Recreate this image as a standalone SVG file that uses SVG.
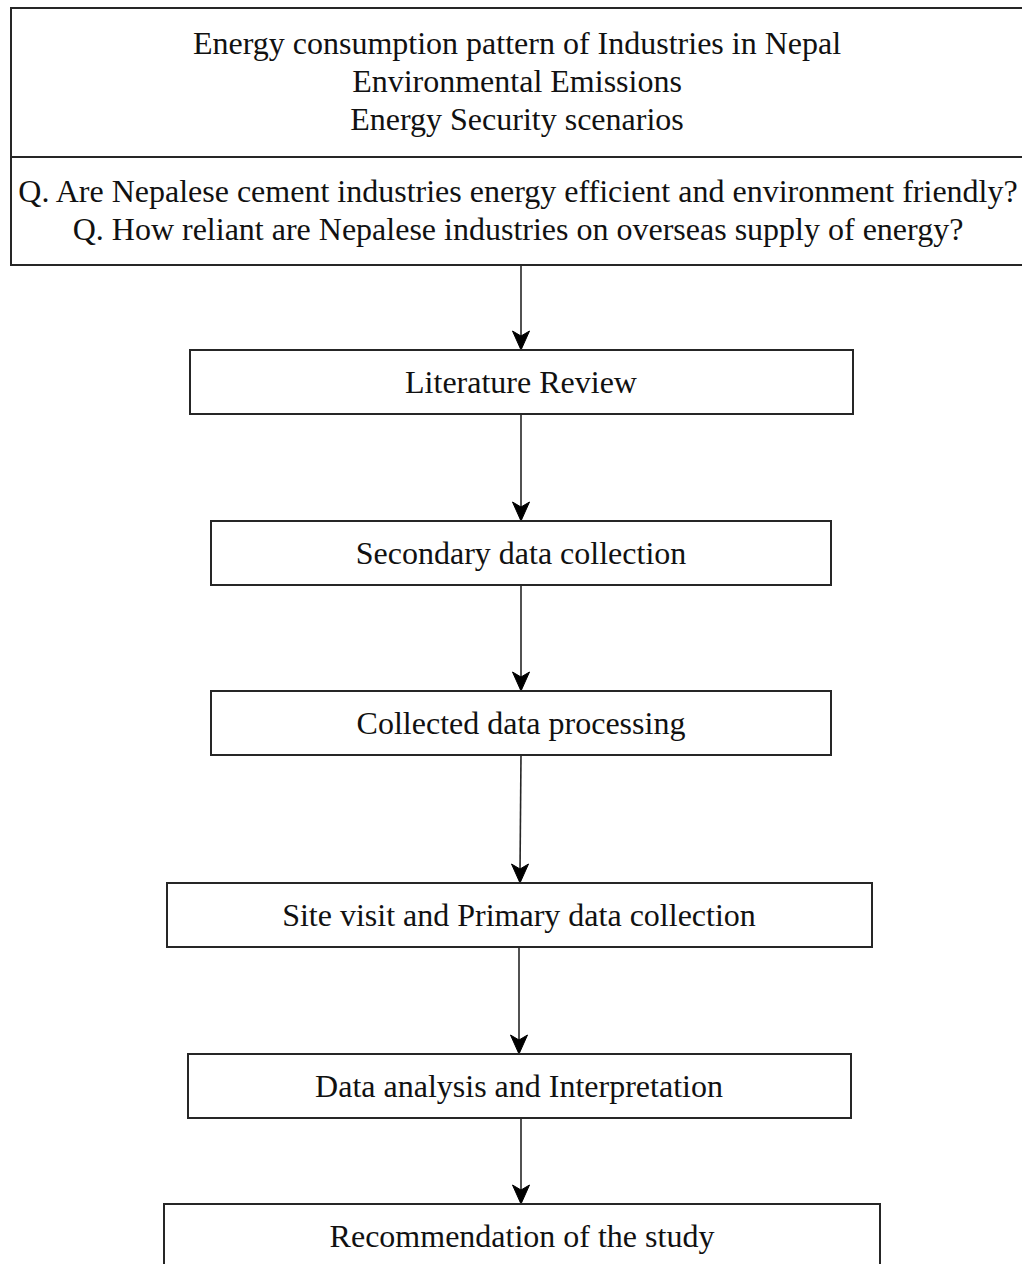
<svg xmlns="http://www.w3.org/2000/svg" width="1022" height="1264" viewBox="0 0 1022 1264">
<style>
  .box { fill: #ffffff; stroke: #262626; stroke-width: 2; }
  .lbl { font-family: "Liberation Serif", "Times New Roman", serif; font-size: 32px; fill: #111111; text-anchor: middle; }
  .edge { fill: none; stroke: #262626; stroke-width: 1.6; }
  .head { fill: #000000; stroke: #000000; stroke-width: 1; stroke-linejoin: miter; }
</style>
<defs>
  <path id="ah" d="M0,0 L-8.5,-19 L0,-14 L8.5,-19 Z"/>
</defs>
<rect width="1022" height="1264" fill="#ffffff"/>

<g id="connectors">
  <line class="edge" x1="521" y1="265" x2="521" y2="340"/>
  <use href="#ah" class="head" transform="translate(521,350)"/>
  <line class="edge" x1="521" y1="414" x2="521" y2="511"/>
  <use href="#ah" class="head" transform="translate(521,521)"/>
  <line class="edge" x1="521" y1="585" x2="521" y2="681"/>
  <use href="#ah" class="head" transform="translate(521,691)"/>
  <line class="edge" x1="521" y1="755" x2="520" y2="873"/>
  <use href="#ah" class="head" transform="translate(520,883)"/>
  <line class="edge" x1="519" y1="947" x2="519" y2="1044"/>
  <use href="#ah" class="head" transform="translate(519,1054)"/>
  <line class="edge" x1="521" y1="1118" x2="521" y2="1194"/>
  <use href="#ah" class="head" transform="translate(521,1204)"/>
</g>

<g id="node-scope">
  <rect class="box" x="11" y="8" width="1016" height="149"/>
  <text class="lbl" x="517" y="54">Energy consumption pattern of Industries in Nepal</text>
  <text class="lbl" x="517" y="92">Environmental Emissions</text>
  <text class="lbl" x="517" y="130">Energy Security scenarios</text>
</g>

<g id="node-questions">
  <rect class="box" x="11" y="157" width="1016" height="108"/>
  <text class="lbl" x="518" y="202">Q. Are Nepalese cement industries energy efficient and environment friendly?</text>
  <text class="lbl" x="518" y="240">Q. How reliant are Nepalese industries on overseas supply of energy?</text>
</g>

<g id="node-literature">
  <rect class="box" x="190" y="350" width="663" height="64"/>
  <text class="lbl" x="521" y="393">Literature Review</text>
</g>

<g id="node-secondary">
  <rect class="box" x="211" y="521" width="620" height="64"/>
  <text class="lbl" x="521" y="564">Secondary data collection</text>
</g>

<g id="node-processing">
  <rect class="box" x="211" y="691" width="620" height="64"/>
  <text class="lbl" x="521" y="734">Collected data processing</text>
</g>

<g id="node-site">
  <rect class="box" x="167" y="883" width="705" height="64"/>
  <text class="lbl" x="519" y="926">Site visit and Primary data collection</text>
</g>

<g id="node-analysis">
  <rect class="box" x="188" y="1054" width="663" height="64"/>
  <text class="lbl" x="519" y="1097">Data analysis and Interpretation</text>
</g>

<g id="node-recommendation">
  <rect class="box" x="164" y="1204" width="716" height="100"/>
  <text class="lbl" x="522" y="1247">Recommendation of the study</text>
</g>
</svg>
